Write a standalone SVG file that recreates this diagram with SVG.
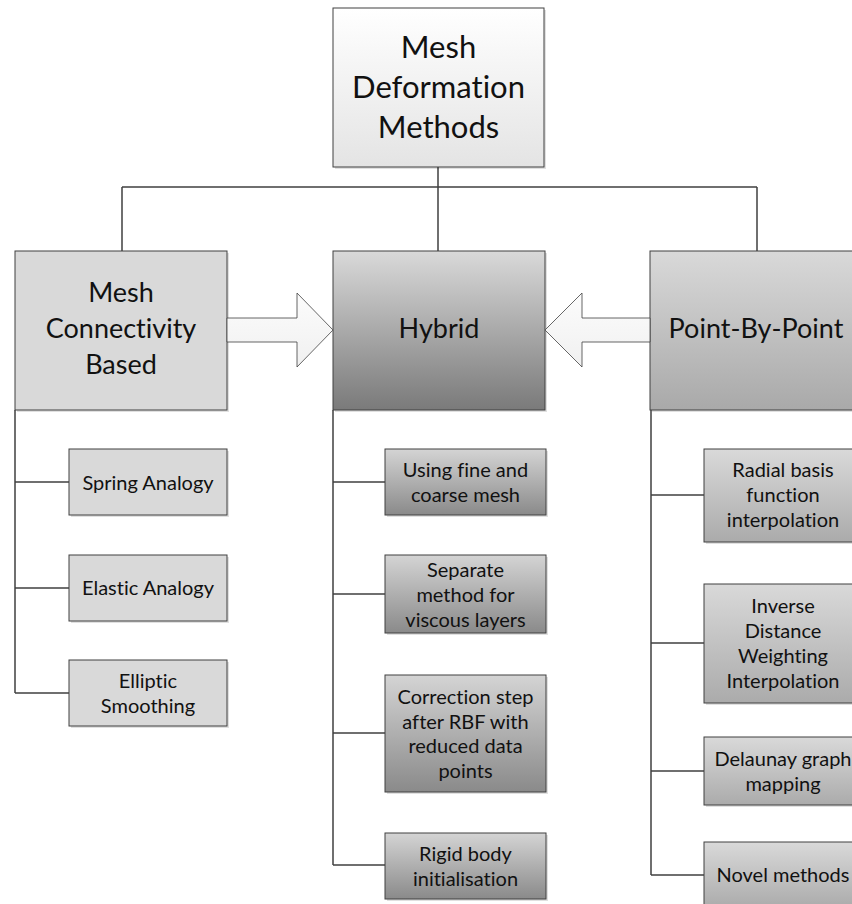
<svg xmlns="http://www.w3.org/2000/svg" width="852" height="904" viewBox="0 0 852 904">
<defs>
<linearGradient id="gTop" x1="0" y1="0" x2="0" y2="1"><stop offset="0" stop-color="#ffffff"/><stop offset="1" stop-color="#e4e4e4"/></linearGradient>
<linearGradient id="gHyb" x1="0" y1="0" x2="0" y2="1"><stop offset="0" stop-color="#d9d9d9"/><stop offset="1" stop-color="#7a7a7a"/></linearGradient>
<linearGradient id="gPbp" x1="0" y1="0" x2="0" y2="1"><stop offset="0" stop-color="#d9d9d9"/><stop offset="1" stop-color="#a9a9a9"/></linearGradient>
<linearGradient id="gMidC" x1="0" y1="0" x2="0" y2="1"><stop offset="0" stop-color="#d4d4d4"/><stop offset="1" stop-color="#8a8a8a"/></linearGradient>
<linearGradient id="gRgtC" x1="0" y1="0" x2="0" y2="1"><stop offset="0" stop-color="#d9d9d9"/><stop offset="1" stop-color="#ababab"/></linearGradient>
<linearGradient id="gArr" x1="0" y1="0" x2="0" y2="1"><stop offset="0" stop-color="#fcfcfc"/><stop offset="1" stop-color="#f0f0f0"/></linearGradient>
</defs>
<style>
.box{stroke:#404040;stroke-width:1}
.sh{fill:#000;fill-opacity:0.12}
.flat{fill:#d9d9d9}
.conn{stroke:#404040;stroke-width:1.5;fill:none}
.arr{fill:url(#gArr);stroke:#404040;stroke-width:0.8}
text{font-family:Lato,"Open Sans","Liberation Sans",sans-serif;fill:#111;text-anchor:middle;font-variant-ligatures:none}
.t1{font-size:31px}
.t2{font-size:27px}
.t3{font-size:20px}
</style>

<g id="connectors">
<path class="conn" d="M438 167V251M122 187H757M122 187V251M757 187V251"/>
<path class="conn" d="M15 410V693M15 482H69M15 588H69M15 693H69"/>
<path class="conn" d="M333 410V865M333 482H385M333 594H385M333 733H385M333 865H385"/>
<path class="conn" d="M651 409V875M651 495H704M651 643H704M651 771H704M651 875H704"/>
</g>

<g id="root">
<rect class="sh" x="335" y="10" width="211" height="159"/>
<rect class="box" x="333" y="8" width="211" height="159" fill="url(#gTop)"/>
<text class="t1" x="438.5" y="58">Mesh</text>
<text class="t1" x="438.5" y="98">Deformation</text>
<text class="t1" x="438.5" y="138">Methods</text>
</g>

<g id="meshConnectivity">
<rect class="sh" x="17" y="253" width="212" height="159"/>
<rect class="box flat" x="15" y="251" width="212" height="159"/>
<text class="t2" x="121" y="302">Mesh</text>
<text class="t2" x="121" y="338">Connectivity</text>
<text class="t2" x="121" y="374">Based</text>
</g>

<g id="hybrid">
<rect class="sh" x="335" y="253" width="212" height="159"/>
<rect class="box" x="333" y="251" width="212" height="159" fill="url(#gHyb)"/>
<text class="t2" x="439" y="338">Hybrid</text>
</g>

<g id="pointByPoint">
<rect class="sh" x="652" y="253" width="212" height="159"/>
<rect class="box" x="650" y="251" width="212" height="159" fill="url(#gPbp)"/>
<text class="t2" x="756" y="338">Point-By-Point</text>
</g>

<g id="arrowRight">
<polygon class="arr" points="227,318 297,318 297,293 333,330 297,367 297,342 227,342"/>
</g>
<g id="arrowLeft">
<polygon class="arr" points="650,318 582,318 582,293 545,330 582,367 582,342 650,342"/>
</g>

<g id="spring">
<rect class="sh" x="71" y="451" width="158" height="66"/>
<rect class="box flat" x="69" y="449" width="158" height="66"/>
<text class="t3" x="148" y="490">Spring Analogy</text>
</g>
<g id="elastic">
<rect class="sh" x="71" y="557" width="158" height="66"/>
<rect class="box flat" x="69" y="555" width="158" height="66"/>
<text class="t3" x="148" y="595">Elastic Analogy</text>
</g>
<g id="elliptic">
<rect class="sh" x="71" y="662" width="158" height="66"/>
<rect class="box flat" x="69" y="660" width="158" height="66"/>
<text class="t3" x="148" y="688">Elliptic</text>
<text class="t3" x="148" y="713">Smoothing</text>
</g>

<g id="fineCoarse">
<rect class="sh" x="387" y="451" width="161" height="66"/>
<rect class="box" x="385" y="449" width="161" height="66" fill="url(#gMidC)"/>
<text class="t3" x="465.5" y="477">Using fine and</text>
<text class="t3" x="465.5" y="502">coarse mesh</text>
</g>
<g id="separate">
<rect class="sh" x="387" y="557" width="161" height="78"/>
<rect class="box" x="385" y="555" width="161" height="78" fill="url(#gMidC)"/>
<text class="t3" x="465.5" y="577">Separate</text>
<text class="t3" x="465.5" y="602">method for</text>
<text class="t3" x="465.5" y="627">viscous layers</text>
</g>
<g id="correction">
<rect class="sh" x="387" y="677" width="161" height="117"/>
<rect class="box" x="385" y="675" width="161" height="117" fill="url(#gMidC)"/>
<text class="t3" x="465.5" y="704">Correction step</text>
<text class="t3" x="465.5" y="729">after RBF with</text>
<text class="t3" x="465.5" y="753">reduced data</text>
<text class="t3" x="465.5" y="778">points</text>
</g>
<g id="rigid">
<rect class="sh" x="387" y="835" width="161" height="66"/>
<rect class="box" x="385" y="833" width="161" height="66" fill="url(#gMidC)"/>
<text class="t3" x="465.5" y="861">Rigid body</text>
<text class="t3" x="465.5" y="886">initialisation</text>
</g>

<g id="radial">
<rect class="sh" x="706" y="451" width="158" height="93"/>
<rect class="box" x="704" y="449" width="158" height="93" fill="url(#gRgtC)"/>
<text class="t3" x="783" y="477">Radial basis</text>
<text class="t3" x="783" y="502">function</text>
<text class="t3" x="783" y="527">interpolation</text>
</g>
<g id="inverse">
<rect class="sh" x="706" y="586" width="158" height="119"/>
<rect class="box" x="704" y="584" width="158" height="119" fill="url(#gRgtC)"/>
<text class="t3" x="783" y="613">Inverse</text>
<text class="t3" x="783" y="638">Distance</text>
<text class="t3" x="783" y="663">Weighting</text>
<text class="t3" x="783" y="688">Interpolation</text>
</g>
<g id="delaunay">
<rect class="sh" x="706" y="739" width="158" height="68"/>
<rect class="box" x="704" y="737" width="158" height="68" fill="url(#gRgtC)"/>
<text class="t3" x="783" y="766">Delaunay graph</text>
<text class="t3" x="783" y="791">mapping</text>
</g>
<g id="novel">
<rect class="sh" x="706" y="844" width="158" height="66"/>
<rect class="box" x="704" y="842" width="158" height="66" fill="url(#gRgtC)"/>
<text class="t3" x="783" y="882">Novel methods</text>
</g>
</svg>
